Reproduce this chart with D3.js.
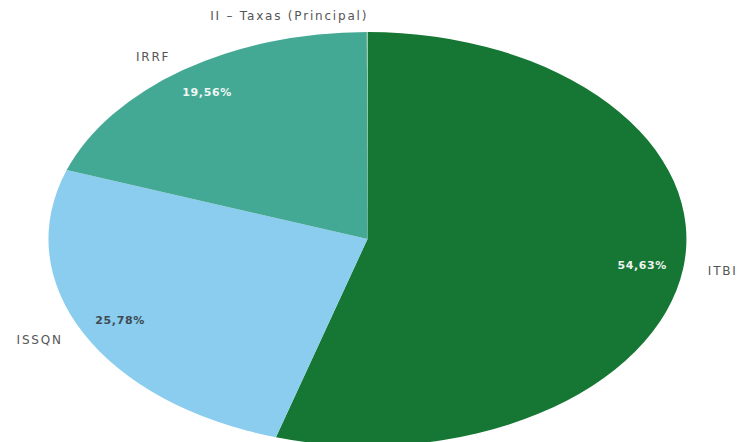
<!DOCTYPE html>
<html>
<head>
<meta charset="utf-8">
<script src="https://cdn.jsdelivr.net/npm/d3@7"></script>
<style>
  html, body { margin: 0; padding: 0; background: #ffffff; }
  svg { display: block; }
</style>
</head>
<body>
<svg id="chart" width="741" height="442"></svg>
<script>
// Tax revenue shares (%)
const categories = ["ITBI", "ISSQN", "IRRF", "II – Taxas (Principal)"];
const shares = [54.63, 25.78, 19.56, 0.03];
const colors = ["#157733", "#8acdee", "#44a994", "#b9dcb3"];
const valueLabelColors = ["#eef3ef", "#3f4a52", "#eef7f4", null];

const W = 741, H = 442;
const cx = 367.5, cy = 239, rx = 319, ry = 207;

const svg = d3.select("#chart");
const data = categories.map((c, i) => ({ name: c, value: shares[i], i }));

const pie = d3.pie().value(d => d.value).sort(null).startAngle(0).endAngle(2 * Math.PI);
const arcs = pie(data);

// Slices drawn on a unit circle, stretched into an ellipse
const unitArc = d3.arc().innerRadius(0).outerRadius(1);
const gPie = svg.append("g").attr("transform", `translate(${cx},${cy}) scale(${rx},${ry})`);
gPie.selectAll("path")
  .data(arcs)
  .join("path")
  .attr("d", unitArc)
  .attr("fill", d => colors[d.data.i]);

// Point on the ellipse at the slice's mid angle, at a fraction of the radius
function pointAt(d, k) {
  const a = (d.startAngle + d.endAngle) / 2;
  return [cx + rx * k * Math.sin(a), cy - ry * k * Math.cos(a)];
}

const fmt = v => v.toFixed(2).replace(".", ",") + "%";

// Value labels inside slices
svg.append("g").selectAll("text")
  .data(arcs.filter(d => valueLabelColors[d.data.i]))
  .join("text")
  .attr("x", d => pointAt(d, 0.87)[0])
  .attr("y", d => pointAt(d, 0.87)[1])
  .attr("text-anchor", "middle")
  .attr("dominant-baseline", "central")
  .attr("font-family", "DejaVu Sans, sans-serif")
  .attr("font-size", 11)
  .attr("font-weight", "bold")
  .attr("letter-spacing", 0.6)
  .attr("fill", d => valueLabelColors[d.data.i])
  .text(d => fmt(d.data.value));

// Category labels outside the ellipse
svg.append("g").selectAll("text")
  .data(arcs)
  .join("text")
  .attr("x", d => pointAt(d, 1.075)[0] + (Math.sin((d.startAngle + d.endAngle) / 2) >= 0 ? 1 : 1))
  .attr("y", d => pointAt(d, 1.075)[1])
  .attr("text-anchor", d => Math.sin((d.startAngle + d.endAngle) / 2) >= 0 ? "start" : "end")
  .attr("dominant-baseline", "central")
  .attr("font-family", "DejaVu Sans, sans-serif")
  .attr("font-size", 12)
  .attr("letter-spacing", 1.8)
  .attr("fill", "#555555")
  .text(d => d.data.name);
</script>
</body>
</html>
